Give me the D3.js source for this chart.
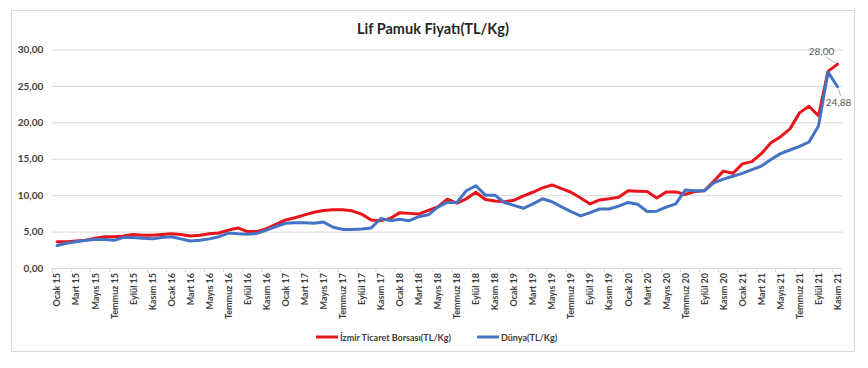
<!DOCTYPE html>
<html>
<head>
<meta charset="utf-8">
<script src="https://cdn.jsdelivr.net/npm/d3@7"></script>
<style>
  body { margin: 0; background: #fff; }
  text { font-family: Lato, "Open Sans", sans-serif; }
</style>
</head>
<body>
<svg id="chart" width="868" height="368"></svg>
<script>
const monthNames = ["Ocak", "Şubat", "Mart", "Nisan", "Mayıs", "Haziran",
  "Temmuz", "Ağustos", "Eylül", "Ekim", "Kasım", "Aralık"];
const years = ["15", "16", "17", "18", "19", "20", "21"];

// Ocak 15 .. Kasım 21 (83 months)
const categories = years
  .flatMap((y) => monthNames.map((m) => `${m} ${y}`))
  .slice(0, 83);

const izmir = [
  3.6, 3.6, 3.7, 3.8, 4.1, 4.3, 4.3, 4.4, 4.6, 4.5, 4.5, 4.6,
  4.7, 4.6, 4.4, 4.5, 4.7, 4.8, 5.2, 5.5, 5.0, 5.0, 5.4, 6.0,
  6.6, 6.9, 7.3, 7.65, 7.9, 8.0, 8.0, 7.85, 7.4, 6.6, 6.5, 6.8,
  7.6, 7.5, 7.4, 7.9, 8.4, 9.45, 8.9, 9.5, 10.4, 9.4, 9.2, 9.1,
  9.3, 9.9, 10.4, 11.0, 11.4, 10.9, 10.4, 9.6, 8.8, 9.35, 9.5, 9.7,
  10.6, 10.55, 10.5, 9.6, 10.45, 10.45, 10.1, 10.5, 10.6, 11.9, 13.3, 13.0,
  14.3, 14.6, 15.7, 17.2, 18.0, 19.1, 21.3, 22.2, 20.9, 27.0, 28.0
];

const dunya = [
  3.1, 3.4, 3.6, 3.8, 3.9, 3.9, 3.8, 4.2, 4.2, 4.1, 4.0, 4.2,
  4.3, 4.0, 3.7, 3.8, 4.0, 4.3, 4.8, 4.7, 4.65, 4.75, 5.2, 5.7,
  6.15, 6.2, 6.2, 6.15, 6.3, 5.6, 5.3, 5.3, 5.35, 5.5, 6.8, 6.5,
  6.7, 6.5, 7.05, 7.3, 8.35, 9.0, 9.0, 10.6, 11.3, 10.0, 10.0, 9.0,
  8.6, 8.2, 8.8, 9.5, 9.1, 8.4, 7.75, 7.15, 7.6, 8.1, 8.1, 8.5,
  9.0, 8.75, 7.75, 7.8, 8.35, 8.8, 10.7, 10.6, 10.6, 11.7, 12.2, 12.6,
  13.0, 13.5, 14.0, 14.9, 15.7, 16.2, 16.7, 17.3, 19.5, 26.9, 24.88
];

const yTicks = [0, 5, 10, 15, 20, 25, 30];

const seriesNames = ["İzmir Ticaret Borsası(TL/Kg)", "Dünya(TL/Kg)"];
const seriesColors = ["#e8141c", "#4472c4"];

const svg = d3.select("#chart");
const plot = { left: 52.3, right: 842.3, top: 49.5, bottom: 268 };
const fmt = (v) => d3.format(".2f")(v).replace(".", ",");

// outer frame
svg.append("rect")
  .attr("x", 11.5).attr("y", 10.5)
  .attr("width", 843).attr("height", 341)
  .attr("fill", "#fff")
  .attr("stroke", "#d9d9d9");

svg.append("text")
  .attr("x", 433).attr("y", 34)
  .attr("text-anchor", "middle")
  .attr("font-size", 14.5)
  .attr("font-weight", "bold")
  .attr("fill", "#262626")
  .text("Lif Pamuk Fiyatı(TL/Kg)");

const x = d3.scalePoint()
  .domain(categories)
  .range([plot.left, plot.right])
  .padding(0.5);

const y = d3.scaleLinear()
  .domain([0, 30])
  .range([plot.bottom, plot.top]);

// grid + y labels
const yAxis = svg.append("g")
  .attr("transform", `translate(${plot.left},0)`)
  .call(d3.axisLeft(y).tickValues(yTicks).tickFormat(fmt)
    .tickSize(-(plot.right - plot.left)).tickPadding(9));
yAxis.select(".domain").remove();
yAxis.selectAll(".tick line").attr("stroke", "#d9d9d9");
yAxis.selectAll(".tick text")
  .attr("font-size", 10)
  .attr("font-weight", "bold")
  .attr("fill", "#404040")
  .style("font-family", "Lato, sans-serif");

// x axis
const step = x.step();
const xAxis = svg.append("g")
  .attr("transform", `translate(0,${plot.bottom})`)
  .call(d3.axisBottom(x)
    .tickValues(categories.filter((d, i) => i % 2 === 0))
    .tickSize(0).tickPadding(5));
xAxis.select(".domain").attr("stroke", "#d9d9d9");
xAxis.selectAll(".tick text")
  .attr("transform", "rotate(-90)")
  .attr("text-anchor", "end")
  .attr("dx", "-5")
  .attr("dy", "0.32em")
  .attr("x", 0).attr("y", 0)
  .attr("font-size", 9)
  .attr("font-weight", "bold")
  .attr("fill", "#404040")
  .style("font-family", "Lato, sans-serif");

// tick marks between label groups
xAxis.selectAll(".minor")
  .data(categories.filter((d, i) => i % 2 === 0))
  .join("line")
  .attr("x1", (d) => x(d) - step / 2)
  .attr("x2", (d) => x(d) - step / 2)
  .attr("y1", 0).attr("y2", 4)
  .attr("stroke", "#d9d9d9");

// lines
const series = [izmir, dunya];
const line = d3.line()
  .x((d, i) => x(categories[i]))
  .y((d) => y(d));

series.forEach((s, k) => {
  svg.append("path")
    .datum(s)
    .attr("fill", "none")
    .attr("stroke", seriesColors[k])
    .attr("stroke-width", 3)
    .attr("stroke-linejoin", "round")
    .attr("stroke-linecap", "round")
    .attr("d", line);
});

// end labels
const last = categories[categories.length - 1];
const lx = x(last);
const izEnd = izmir[izmir.length - 1];
const duEnd = dunya[dunya.length - 1];

svg.append("line")
  .attr("x1", lx - 2).attr("y1", y(izEnd) - 1)
  .attr("x2", lx - 12).attr("y2", y(izEnd) - 7)
  .attr("stroke", "#a6a6a6").attr("stroke-width", 0.8);
svg.append("text")
  .attr("x", lx - 16).attr("y", y(izEnd) - 9)
  .attr("text-anchor", "middle")
  .attr("font-size", 10)
  .attr("fill", "#595959")
  .text(fmt(izEnd));

svg.append("line")
  .attr("x1", lx + 1).attr("y1", y(duEnd) + 2)
  .attr("x2", lx + 3).attr("y2", y(duEnd) + 9)
  .attr("stroke", "#a6a6a6").attr("stroke-width", 0.8);
svg.append("text")
  .attr("x", lx + 1).attr("y", y(duEnd) + 19)
  .attr("text-anchor", "middle")
  .attr("font-size", 10)
  .attr("fill", "#595959")
  .text(fmt(duEnd));

// legend
const legendX = [316, 477];
seriesNames.forEach((name, k) => {
  const g = svg.append("g").attr("transform", `translate(${legendX[k]},337)`);
  g.append("line")
    .attr("x1", 0).attr("x2", 22)
    .attr("stroke", seriesColors[k])
    .attr("stroke-width", 3);
  g.append("text")
    .attr("x", 24).attr("y", 3.5)
    .attr("font-size", 9)
    .attr("font-weight", "bold")
    .attr("fill", "#404040")
    .text(name);
});
</script>
</body>
</html>
